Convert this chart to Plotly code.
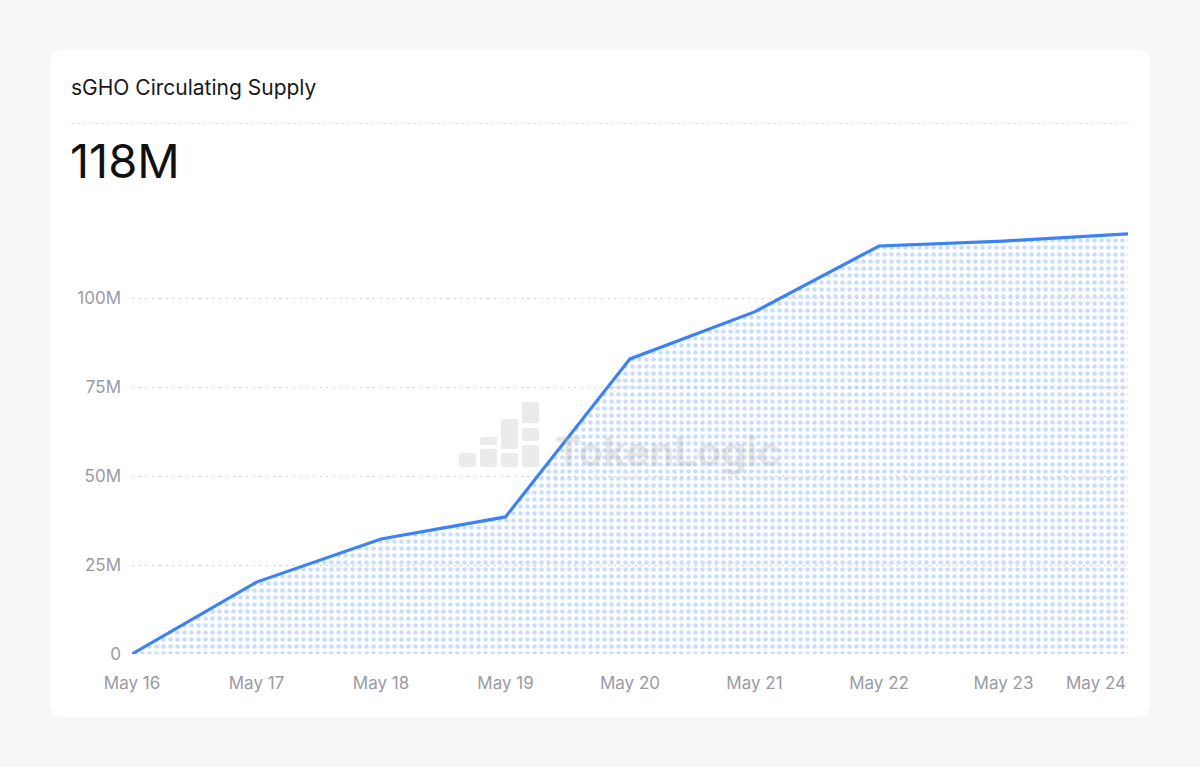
import plotly.graph_objects as go

# ---- data ----
dates = ["2025-05-16", "2025-05-17", "2025-05-18", "2025-05-19", "2025-05-20",
         "2025-05-21", "2025-05-22", "2025-05-23", "2025-05-24"]
supply = [0.0, 20.2e6, 32.3e6, 38.5e6, 82.9e6, 96.1e6, 114.6e6, 116.0e6, 118.0e6]
y_tickvals = [0, 25e6, 50e6, 75e6, 100e6]
y_ticktext = ["0", "25M", "50M", "75M", "100M"]
x_tickvals = dates[:-1]
last_label = "May 24"
title_text = "sGHO Circulating Supply"
headline = "118M"
watermark = "TokenLogic"

# ---- layout geometry (pixels) ----
W, H = 1200, 767
L, R, T, B = 132, 1128, 209, 654


def px(x):
    return (x - L) / (R - L)


def py(y):
    return (B - y) / (B - T)


def rounded_rect(x0, y0, x1, y1, r):
    return (f"M {px(x0 + r)},{py(y0)} L {px(x1 - r)},{py(y0)} "
            f"Q {px(x1)},{py(y0)} {px(x1)},{py(y0 + r)} "
            f"L {px(x1)},{py(y1 - r)} Q {px(x1)},{py(y1)} {px(x1 - r)},{py(y1)} "
            f"L {px(x0 + r)},{py(y1)} Q {px(x0)},{py(y1)} {px(x0)},{py(y1 - r)} "
            f"L {px(x0)},{py(y0 + r)} Q {px(x0)},{py(y0)} {px(x0 + r)},{py(y0)} Z")


FONT = "Inter, 'Noto Sans', sans-serif"
BLUE = "#3b82f6"
TICK_COLOR = "#9a9aa2"

fig = go.Figure()
fig.add_trace(go.Scatter(
    x=dates, y=supply, mode="lines",
    line=dict(color=BLUE, width=3.2),
    fill="tozeroy",
    fillcolor="rgba(0,0,0,0)",
    fillpattern=dict(shape=".", fgcolor="#93bbf9", bgcolor="rgba(0,0,0,0)",
                     size=7, solidity=0.36, fillmode="overlay"),
    hoverinfo="skip",
    cliponaxis=False,
))

shapes = [
    dict(type="path", xref="paper", yref="paper", layer="below",
         path=rounded_rect(50, 50, 1150, 717, 12),
         fillcolor="white", line=dict(width=0)),
    dict(type="line", xref="paper", yref="paper", layer="below",
         x0=px(71), x1=px(1129), y0=py(123.5), y1=py(123.5),
         line=dict(color="#e4e4e7", width=1, dash="3px,3px")),
]

# watermark icon blocks (pixel boxes)
icon_blocks = [
    (459, 453, 476, 467),
    (480, 449, 497, 467), (480, 437, 497, 445),
    (501, 453, 518, 467), (501, 419, 518, 449),
    (522, 445, 539, 467), (522, 428, 539, 441), (522, 402, 539, 423),
]
for (x0, y0, x1, y1) in icon_blocks:
    shapes.append(dict(type="path", xref="paper", yref="paper", layer="below",
                       path=rounded_rect(x0, y0, x1, y1, 2),
                       fillcolor="#ebebeb", line=dict(width=0)))

annotations = [
    dict(text=title_text, xref="paper", yref="paper", x=px(69), y=py(88),
         xanchor="left", yanchor="middle", showarrow=False,
         font=dict(family=FONT, size=21, color="#18181b")),
    dict(text=headline, xref="paper", yref="paper", x=px(68), y=py(160),
         xanchor="left", yanchor="middle", showarrow=False,
         font=dict(family=FONT, size=47, color="#111111")),
    dict(text=f"<b>{watermark}</b>", xref="paper", yref="paper", x=px(553), y=py(451),
         xanchor="left", yanchor="middle", showarrow=False,
         font=dict(family=FONT, size=40, color="rgba(175,175,175,0.32)")),
    dict(text=last_label, xref="x", yref="paper", x=dates[-1], y=py(683),
         xanchor="right", yanchor="middle", showarrow=False,
         font=dict(family=FONT, size=17, color=TICK_COLOR)),
]

fig.update_layout(
    width=W, height=H,
    margin=dict(l=L, r=W - R, t=T, b=H - B, pad=0),
    paper_bgcolor="#f7f7f7",
    plot_bgcolor="rgba(0,0,0,0)",
    showlegend=False,
    shapes=shapes,
    annotations=annotations,
    font=dict(family=FONT),
    xaxis=dict(
        type="date", range=[dates[0], dates[-1]],
        tickvals=x_tickvals, tickformat="%b %-d",
        showgrid=False, zeroline=False, showline=False, ticks="",
        ticklabelstandoff=17,
        tickfont=dict(family=FONT, size=17, color=TICK_COLOR),
    ),
    yaxis=dict(
        range=[0, 125e6], tickvals=y_tickvals, ticktext=y_ticktext,
        showgrid=True, gridcolor="#d4d4d8", gridwidth=1, griddash="2px,4.7px",
        zeroline=False, showline=False, ticks="",
        ticklabelstandoff=10,
        tickfont=dict(family=FONT, size=17, color=TICK_COLOR),
    ),
)

fig.write_html("out.html")
